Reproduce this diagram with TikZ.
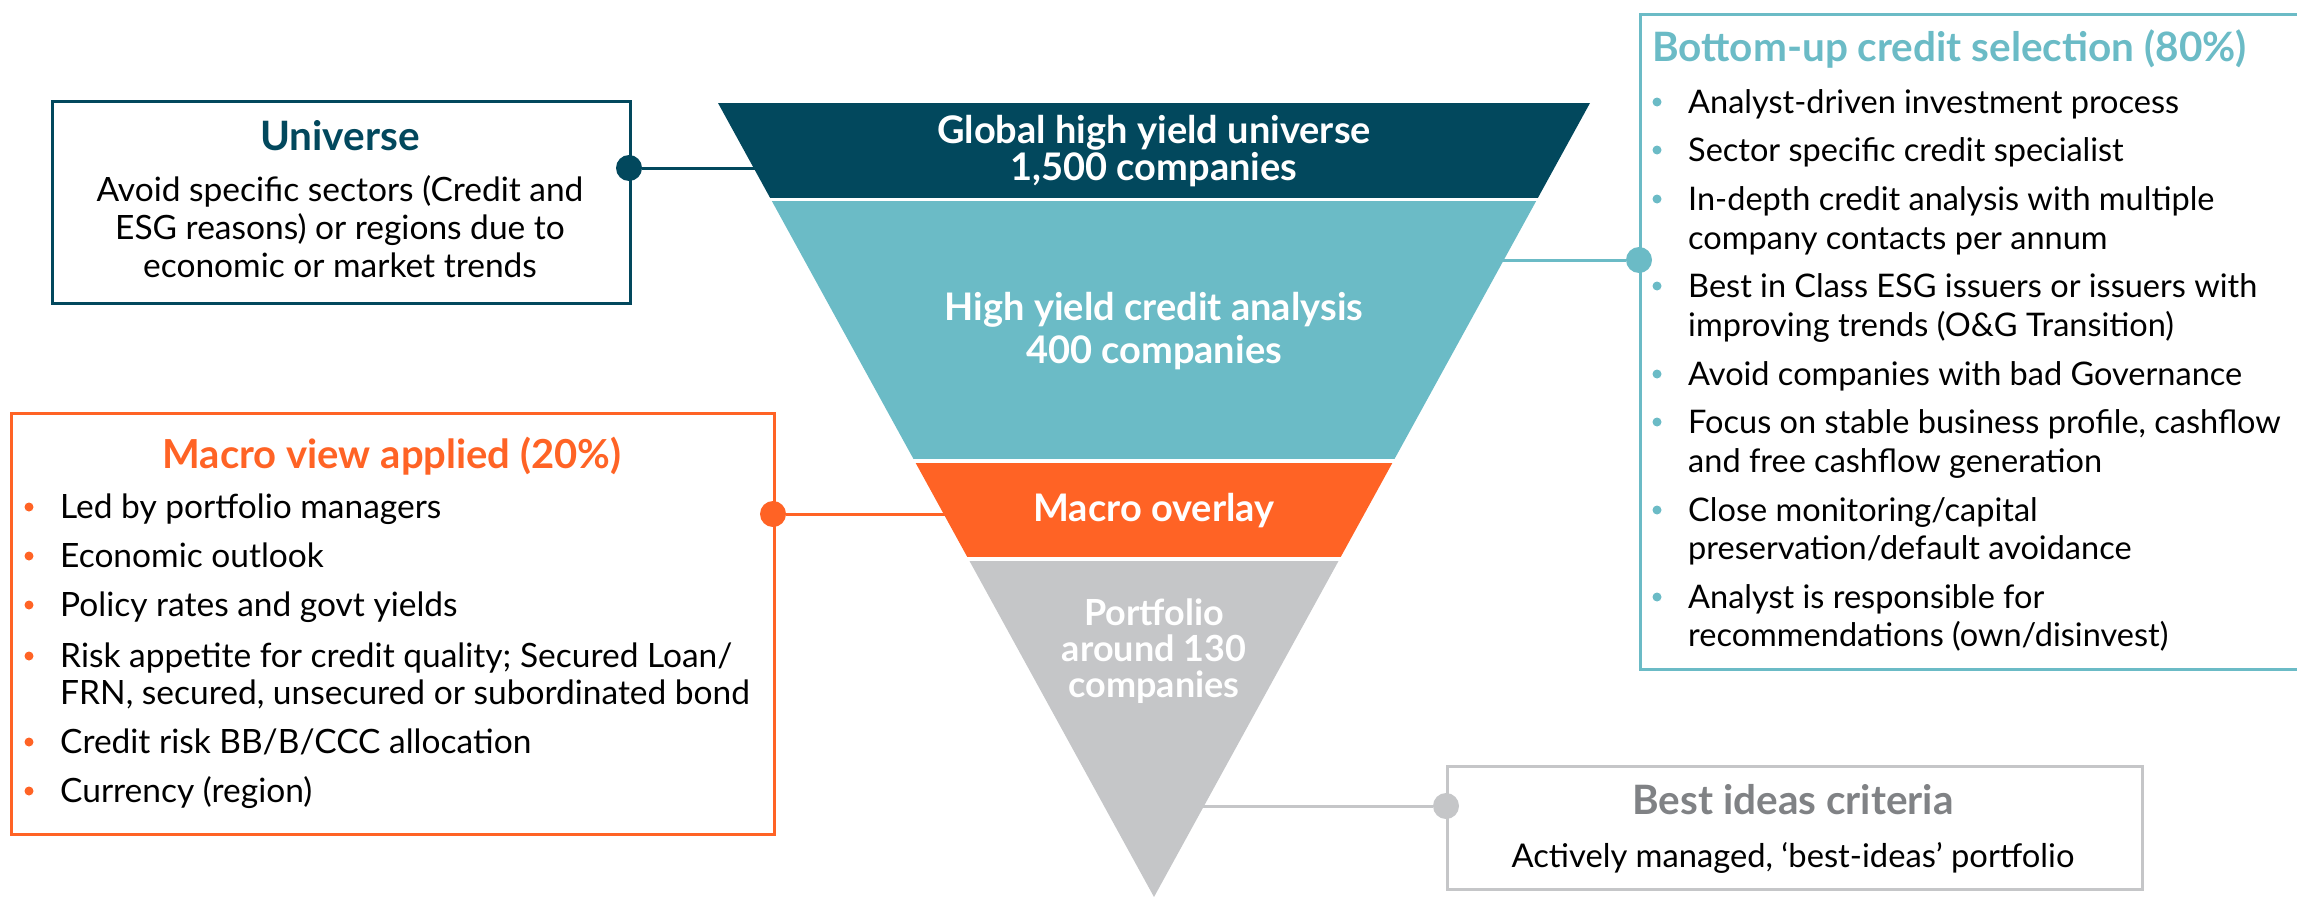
\documentclass[tikz,border=0pt]{standalone}
\usepackage{fontspec}
\setmainfont{Lato}

\definecolor{hydark}{HTML}{02485D}
\definecolor{hyteal}{HTML}{6BBBC6}
\definecolor{hyorange}{HTML}{FF6325}
\definecolor{hygray}{HTML}{C5C6C8}
\definecolor{hygraytext}{HTML}{808285}

\begin{document}
\begin{tikzpicture}[
	x=1pt, y=-1pt,
	frame/.style={draw, line width=3pt, inner sep=0pt, anchor=north west},
	dot/.style={circle, fill, inner sep=0pt, minimum size=26pt},
	link/.style={line width=3pt},
	body/.style={inner sep=0pt, font=\fontsize{33.5}{38}\selectfont},
	head/.style={inner sep=0pt, font=\bfseries\fontsize{40.5}{46}\selectfont},
	band/.style={inner sep=0pt, text=white, align=center, font=\bfseries\fontsize{38}{37}\selectfont}
	]
	\useasboundingbox (0,0) rectangle (2297,897);
	\clip (0,0) rectangle (2297,897);
	
	% Boxes round the funnel
	\node[frame, hydark, minimum width=578pt, minimum height=202pt] (univ) at (51,100) {};
	\node[frame, hyorange, minimum width=763pt, minimum height=421pt] (macro) at (10,412) {};
	\node[frame, hyteal, minimum width=740pt, minimum height=655pt] (sel) at (1639,13) {};
	\node[frame, hygray, minimum width=695pt, minimum height=123pt] (best) at (1446,765) {};
	
	% Dots on the boxes and ends on the funnel
	\node[dot, hydark] (udot) at (629,168) {};
	\node[dot, hyorange] (mdot) at (773,514) {};
	\node[dot, hyteal] (sdot) at (1639,260) {};
	\node[dot, hygray] (bdot) at (1446,806) {};
	\coordinate (uend) at (762,168);
	\coordinate (mend) at (952,514);
	\coordinate (send) at (1496,260);
	\coordinate (bend) at (1196,806);
	
	% Connections
	\draw[link, hydark] (udot) -- (uend);
	\draw[link, hyorange] (mdot) -- (mend);
	\draw[link, hyteal] (sdot) -- (send);
	\draw[link, hygray] (bdot) -- (bend);
	
	% Funnel
	\begin{scope}
		\clip (718,103) -- (1590,103) -- (1154,897) -- cycle;
		\fill[hydark] (700,103) rectangle (1600,198);
		\fill[hyteal] (700,201) rectangle (1600,459);
		\fill[hyorange] (700,463) rectangle (1600,557);
		\fill[hygray] (700,561) rectangle (1600,897);
	\end{scope}
	\node[band] (global) at (1154,151) {Global high yield universe\\1,500 companies};
	\node[band, font=\bfseries\fontsize{38}{43}\selectfont] (analysis) at (1154,331) {High yield credit analysis\\400 companies};
	\node[band] (overlay) at (1154,511) {Macro overlay};
	\node[band, font=\bfseries\fontsize{36}{36}\selectfont] (portfolio) at (1154,651) {Portfolio\\around 130\\companies};
	
	% Universe
	\node[head, hydark, anchor=base] (univhead) at (340,150) {Universe};
	\node[body, align=center] (univtext) at (340,227) {Avoid specific sectors (Credit and\\ESG reasons) or regions due to\\economic or market trends};
	
	% Macro view applied
	\node[head, hyorange, anchor=base, font=\bfseries\fontsize{40}{46}\selectfont] (macrohead) at (392,468) {Macro view applied (20\%)};
	\foreach \b/\t in {518/{Led by portfolio managers}, 567/{Economic outlook},
		616/{Policy rates and govt yields}, 667/{Risk appetite for credit quality; Secured Loan/},
		704/{FRN, secured, unsecured or subordinated bond}, 753/{Credit risk BB/B/CCC allocation},
		802/{Currency (region)}}
		\node[body, anchor=base west] (macro\b) at (60,\b) {\t};
	\foreach \b in {518,567,616,667,753,802}
		\fill[hyorange] (29,\b-11) circle (4.5);
	
	% Bottom-up credit selection
	\node[head, hyteal, anchor=base west] (selhead) at (1652,61) {Bottom-up credit selection (80\%)};
	\foreach \b/\t in {113/{Analyst-driven investment process}, 161/{Sector specific credit specialist},
		210/{In-depth credit analysis with multiple}, 249/{company contacts per annum},
		297/{Best in Class ESG issuers or issuers with}, 336/{improving trends (O\&G Transition)},
		385/{Avoid companies with bad Governance}, 433/{Focus on stable business profile, cashflow},
		472/{and free cashflow generation}, 521/{Close monitoring/capital},
		559/{preservation/default avoidance}, 608/{Analyst is responsible for},
		646/{recommendations (own/disinvest)}}
		\node[body, anchor=base west, font=\fontsize{32.5}{38}\selectfont] (sel\b) at (1688,\b) {\t};
	\foreach \b in {113,161,210,297,385,433,521,608}
		\fill[hyteal] (1657,\b-11) circle (4.5);
	
	% Best ideas criteria
	\node[head, hygraytext, anchor=base] (besthead) at (1793,814) {Best ideas criteria};
	\node[body, anchor=base, font=\fontsize{32.7}{38}\selectfont] (besttext) at (1793,867) {Actively managed, ‘best-ideas’ portfolio};
\end{tikzpicture}
\end{document}
